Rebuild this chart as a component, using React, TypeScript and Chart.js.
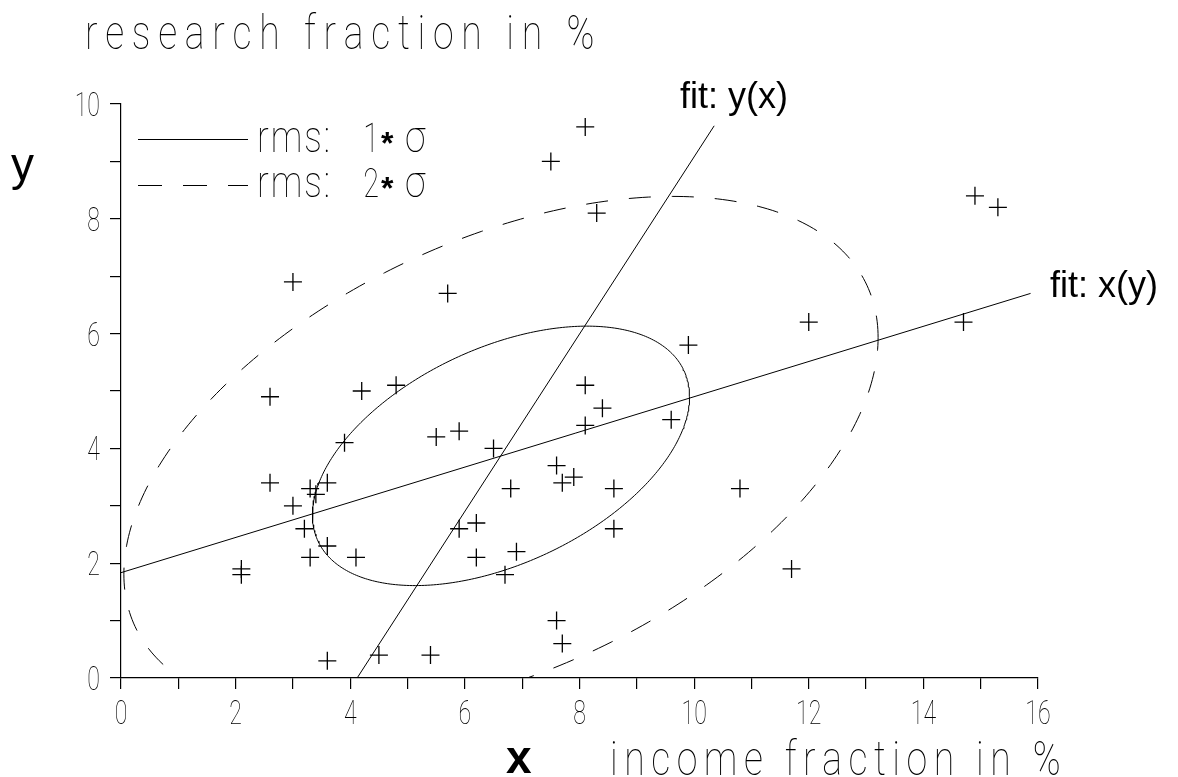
import React, { useEffect, useRef } from 'react';
import { Chart, registerables } from 'chart.js';

Chart.register(...registerables);

// Observations: income fraction (x, %) and research fraction (y, %)
const incomeFraction = [
  2.6, 4.2, 4.8, 3.9, 5.5, 5.9, 6.5, 7.6, 6.8, 2.6,
  3.3, 3.4, 3.6, 3.0, 3.2, 3.6, 3.3, 4.1, 5.9, 6.2,
  6.2, 6.9, 6.7, 2.1, 2.1, 3.6, 4.5, 5.4, 7.6, 7.7,
  7.5, 3.0, 5.7, 8.1, 8.3, 14.9, 15.3, 12.0, 14.7, 9.9,
  8.1, 8.4, 8.1, 9.6, 7.9, 7.7, 8.6, 10.8, 8.6, 11.7,
];
const researchFraction = [
  4.9, 5.0, 5.1, 4.1, 4.2, 4.3, 4.0, 3.7, 3.3, 3.4,
  3.3, 3.2, 3.4, 3.0, 2.6, 2.3, 2.1, 2.1, 2.6, 2.7,
  2.1, 2.2, 1.8, 1.9, 1.8, 0.3, 0.4, 0.4, 1.0, 0.6,
  9.0, 6.9, 6.7, 9.6, 8.1, 8.4, 8.2, 6.2, 6.2, 5.8,
  5.1, 4.7, 4.4, 4.5, 3.5, 3.4, 3.3, 3.3, 2.6, 1.9,
];

// Regression lines (end points)
const fitYofX_x = [4.12, 10.35];
const fitYofX_y = [0.0, 9.62];
const fitXofY_x = [0.0, 15.87];
const fitXofY_y = [1.835, 6.7];

// Moments of the sample for the rms ellipses
const meanXY = [6.63, 3.87];
const sigmaXY = [3.29, 2.26];
const correlation = 0.456;
const rmsLevels = [1, 2];

// Axis tick labels
const xTickLabels = ['0', '2', '4', '6', '8', '10', '12', '14', '16'];
const yTickLabels = ['0', '2', '4', '6', '8', '10'];

const THIN = 'Roboto';
const SANS = '"Liberation Sans", Arial, sans-serif';

function rmsEllipse(k: number) {
  const phase = Math.acos(correlation);
  const pts: { x: number; y: number }[] = [];
  const n = 360;
  for (let i = 0; i <= n; i++) {
    const t = (i / n) * Math.PI * 2;
    pts.push({
      x: meanXY[0] + k * sigmaXY[0] * Math.cos(t),
      y: meanXY[1] + k * sigmaXY[1] * Math.cos(t - phase),
    });
  }
  return pts;
}

function zip(xs: number[], ys: number[]) {
  return xs.map((x, i) => ({ x, y: ys[i] }));
}

// thin stroke-style text, squeezed horizontally and optionally spread to a width
function thinText(
  ctx: CanvasRenderingContext2D,
  text: string,
  x: number,
  y: number,
  size: number,
  align: 'left' | 'center' | 'right',
  sx = 1,
  width?: number
) {
  ctx.save();
  ctx.font = `100 ${size}px ${THIN}`;
  ctx.fillStyle = '#000';
  ctx.textBaseline = 'alphabetic';
  ctx.textAlign = 'left';
  let spacing = 0;
  const w0 = ctx.measureText(text).width * sx;
  if (width !== undefined && text.length > 1) {
    spacing = (width - w0) / (text.length - 1) / sx;
  }
  const w = w0 + spacing * sx * (text.length - 1);
  const left = align === 'left' ? x : align === 'right' ? x - w : x - w / 2;
  ctx.translate(left, y);
  ctx.scale(sx, 1);
  if (spacing === 0) {
    ctx.fillText(text, 0, 0);
  } else {
    let cx = 0;
    for (const ch of text) {
      ctx.fillText(ch, cx, 0);
      cx += ctx.measureText(ch).width + spacing;
    }
  }
  ctx.restore();
}

function sansText(ctx: CanvasRenderingContext2D, text: string, x: number, y: number, font: string) {
  ctx.save();
  ctx.font = font;
  ctx.fillStyle = '#000';
  ctx.textAlign = 'left';
  ctx.textBaseline = 'alphabetic';
  ctx.fillText(text, x, y);
  ctx.restore();
}

const annotations = {
  id: 'annotations',
  afterDraw(chart: Chart) {
    const ctx = chart.ctx;
    const xs = chart.scales.x;
    const ys = chart.scales.y;

    // tick labels
    xTickLabels.forEach((t) => {
      thinText(ctx, t, xs.getPixelForValue(Number(t)), 724, 34, 'center', 0.68);
    });
    yTickLabels.forEach((t) => {
      thinText(ctx, t, 100, ys.getPixelForValue(Number(t)) + 12, 34, 'right', 0.68);
    });

    // axis titles
    thinText(ctx, 'research fraction in %', 85, 49, 48, 'left', 0.78, 508);
    thinText(ctx, 'income fraction in %', 610, 775, 48, 'left', 0.78, 450);
    sansText(ctx, 'y', 11, 180, `46px ${SANS}`);
    sansText(ctx, 'x', 506, 773, `bold 46px ${SANS}`);

    // fit labels
    sansText(ctx, 'fit: y(x)', 680, 108, `36px ${SANS}`);
    sansText(ctx, 'fit: x(y)', 1050, 297, `36px ${SANS}`);

    // legend
    ctx.save();
    ctx.strokeStyle = '#000';
    ctx.lineWidth = 1;
    ctx.beginPath();
    ctx.moveTo(138, 139.5);
    ctx.lineTo(248, 139.5);
    ctx.stroke();
    ctx.setLineDash([24, 21]);
    ctx.beginPath();
    ctx.moveTo(138, 185.5);
    ctx.lineTo(248, 185.5);
    ctx.stroke();
    ctx.restore();
    rmsLevels.forEach((k, i) => {
      const base = 152 + i * 45;
      thinText(ctx, 'rms:', 257, base, 44, 'left', 0.8, 73);
      thinText(ctx, String(k), 379, base, 40, 'right', 0.72);
      sansText(ctx, '*', 381, base + 2, `bold 32px ${SANS}`);
      thinText(ctx, 'σ', 405, base, 44, 'left', 0.85);
    });
  },
};

export default function App() {
  const ref = useRef<HTMLCanvasElement | null>(null);

  useEffect(() => {
    if (!ref.current) return;
    const black = '#000';
    const axisGrid = {
      display: true,
      drawOnChartArea: false,
      drawTicks: true,
      tickLength: 11,
      color: black,
      lineWidth: 1.2,
    };
    const axisBorder = { display: true, color: black, width: 1.2 };

    const chart = new Chart(ref.current, {
      type: 'scatter',
      data: {
        datasets: [
          {
            data: zip(incomeFraction, researchFraction),
            pointStyle: 'cross',
            pointRadius: 9,
            pointHoverRadius: 9,
            borderColor: black,
            backgroundColor: black,
            borderWidth: 1.3,
            showLine: false,
          },
          {
            data: zip(fitYofX_x, fitYofX_y),
            showLine: true,
            pointRadius: 0,
            borderColor: black,
            borderWidth: 1,
          },
          {
            data: zip(fitXofY_x, fitXofY_y),
            showLine: true,
            pointRadius: 0,
            borderColor: black,
            borderWidth: 1,
          },
          {
            data: rmsEllipse(rmsLevels[0]),
            showLine: true,
            pointRadius: 0,
            borderColor: black,
            borderWidth: 1,
            tension: 0,
          },
          {
            data: rmsEllipse(rmsLevels[1]),
            showLine: true,
            pointRadius: 0,
            borderColor: black,
            borderWidth: 1,
            borderDash: [22, 21],
            tension: 0,
          },
        ],
      },
      options: {
        animation: false,
        responsive: false,
        devicePixelRatio: 1,
        events: [],
        layout: { padding: { left: 100, right: 140, top: 104, bottom: 79 } },
        plugins: { legend: { display: false }, tooltip: { enabled: false } },
        scales: {
          x: {
            type: 'linear',
            min: 0,
            max: 16,
            ticks: { stepSize: 1, display: false },
            grid: axisGrid,
            border: axisBorder,
            afterFit: (s: any) => {
              s.height = 20;
            },
          },
          y: {
            type: 'linear',
            min: 0,
            max: 10,
            ticks: { stepSize: 1, display: false },
            grid: axisGrid,
            border: axisBorder,
            afterFit: (s: any) => {
              s.width = 21;
            },
          },
        },
      },
      plugins: [annotations],
    } as any);

    return () => chart.destroy();
  }, []);

  return (
    <div style={{ position: 'fixed', left: 0, top: 0, width: 1178, height: 777, background: '#fff' }}>
      <canvas ref={ref} width={1178} height={777} style={{ width: 1178, height: 777 }} />
    </div>
  );
}
